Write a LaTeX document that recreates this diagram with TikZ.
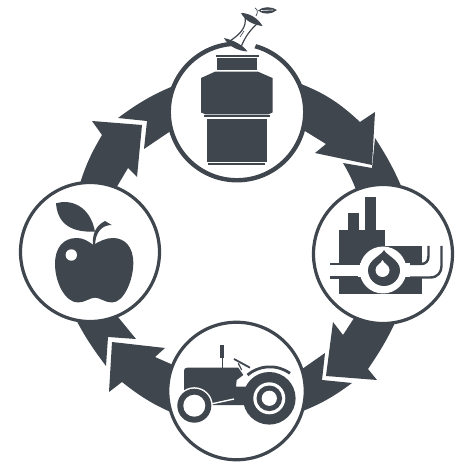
\documentclass[tikz,border=0pt]{standalone}
\definecolor{slate}{HTML}{3F464E}
\tikzset{
  stagering/.style={circle,draw=slate,fill=white,line width=3.2pt,inner sep=0pt},
  band/.style={fill=slate,draw=none},
  pipe/.style={draw=slate,line width=2.4pt},
  gap/.style={fill=white,draw=none}
}
\begin{document}
\begin{tikzpicture}[x=1pt,y=-1pt]
\useasboundingbox (0,0) rectangle (466,462);
% arrows of the ring
\fill[band] (296,82) to[bend left=11] (360,122) -- (375,112) -- (372,165) -- (315,153) -- (326,144) -- (300,128) -- cycle;
\fill[band] (343,163) -- (372,168) -- (375,138) to[bend left=5] (405,195) -- (358,195) to[bend right=5] cycle;
\fill[band] (400,312) to[bend left=5] (368,369) -- (377,380) -- (326,376) -- (333,322) -- (343,335) -- (358,312) -- cycle;
\fill[band] (325,353) -- (322,380) -- (352,383) to[bend left=8] (295,414) -- (295,374) -- cycle;
\fill[band] (180,368) -- (155,357) -- (165,348) -- (112,342) -- (109,392) -- (122,382) to[bend right=8] (180,416) -- cycle;
\fill[band] (118,317) -- (136,339) -- (108,337) -- (106,366) to[bend left=5] (72,312) -- (112,305) -- cycle;
\fill[band] (78,190) to[bend left=7] (102,135) -- (92,121) -- (142,125) -- (137,177) -- (128,168) -- (112,195) -- cycle;
\fill[band] (118,118) -- (147,121) -- (144,149) -- (178,126) -- (178,84) to[bend right=7] cycle;
% the four stages
\node[stagering,line width=4.4pt,minimum size=136.5pt] (disposal) at (237,112) {};
\node[stagering,minimum size=139pt] (plant) at (383,254) {};
\node[stagering,minimum size=137.5pt] (tractor) at (236.5,391) {};
\node[stagering,minimum size=139pt] (apple) at (90,252) {};
% disposal unit
\fill[slate] (215.5,55) rectangle (258.5,57.5);
\fill[slate] (217,58.5) rectangle (256.5,70.5);
\fill[slate] (201,78) -- (215,71.7) -- (258,71.7) -- (272.5,78) -- (272.5,112.5) -- (268,114.5) -- (206,114.5) -- (201,112.5) -- cycle;
\fill[slate] (204,115) rectangle (270,117.5);
\fill[slate] (206.5,119) -- (267,119) -- (267,162) -- (206.5,162) -- cycle;
\fill[slate] (208,163) rectangle (265,165);
% apple core on the rim
\fill[white] (219,36) -- (238,12) -- (265,22) -- (252,54) -- cycle;
\draw[slate,line width=1.2pt] (245,16) .. controls (247,28) and (240,34) .. (230,41);
\draw[slate,line width=1.2pt] (258,23) .. controls (250,30) and (245,37) .. (241,47);
\draw[slate,line width=0.6pt] (244,31) -- (240,37);
\fill[slate] (241,13) .. controls (249,13) and (258,18) .. (262.5,26) .. controls (254,25) and (245,21) .. cycle;
\fill[slate] (224,38) .. controls (233,40) and (243,45) .. (247.5,51.5) .. controls (238,51) and (228,46) .. cycle;
\draw[slate,line width=0.7pt] (255,8) .. controls (258,10) and (258,12) .. (256,16);
\fill[slate] (258,10.5) .. controls (263,6) and (272,6.5) .. (277,10) .. controls (272,14.5) and (263,15) .. cycle;
\draw[white,line width=0.6pt] (261,10.5) -- (273,10);
% plant
\fill[slate] (348.3,212.7) rectangle (359,231);
\fill[slate] (365,196.7) rectangle (376,231);
\fill[slate] (339,230) rectangle (385,263.5);
\fill[slate] (385,246) rectangle (421.7,263.5);
\fill[slate] (339,277.5) rectangle (421.7,294.5);
\fill[gap] (383,270) circle[radius=23.5];
\draw[pipe] (330,264) -- (360,264);
\draw[pipe] (330,277.5) -- (358,277.5);
\draw[pipe] (410,264) -- (421,264) .. controls (426,264) and (428.5,261) .. (428.5,256) -- (428.5,246);
\draw[pipe] (410,277.5) -- (430,277.5) .. controls (438,277.5) and (441.5,272) .. (441.5,266) -- (441.5,246);
\fill[slate] (384,250) .. controls (386,255) and (400,260) .. (400,270) arc[start angle=0,end angle=180,radius=16] .. controls (368,260) and (382,255) .. cycle;
\fill[gap] (382.5,260) .. controls (384,264) and (389.5,265) .. (389.5,270) arc[start angle=0,end angle=180,radius=7] .. controls (375.5,265) and (381,264) .. cycle;
% tractor
\fill[slate] (187,367.7) -- (238.3,367.7) -- (243.3,375) -- (236.7,380) -- (236,386.7) -- (250,386.7) -- (250,405) -- (212,405) -- (205,408) -- (190,396) -- (184,393) -- (184,371) .. controls (184,369) and (185,367.7) .. cycle;
\fill[slate] (220,345) rectangle (224,358.5);
\draw[slate,line width=1pt] (222,358) -- (222,368);
\draw[slate,line width=1.8pt] (234,359) -- (250,367.7);
\draw[slate,line width=1.2pt] (238.3,363.3) -- (241.7,370);
\draw[slate,line width=2.8pt] (247.5,375) .. controls (258,366) and (275,363) .. (290,373.3);
\draw[white,line width=1.4pt] (211,404) -- (234,399);
\fill[slate] (269.3,398.3) circle[radius=26.3];
\fill[white] (269.3,398.3) circle[radius=16];
\fill[slate] (269.3,398.3) circle[radius=12.8];
\fill[white] (269.3,398.3) circle[radius=7.6];
\fill[white] (194.3,405.7) circle[radius=18.5];
\fill[slate] (194.3,405.7) circle[radius=17];
\fill[white] (194.3,405.7) circle[radius=11];
% apple
\fill[slate] (93.3,245) .. controls (87,240) and (82,238) .. (76.7,238) .. controls (63,238) and (55,248) .. (55,264) .. controls (55,282) and (65,302.5) .. (78,302.5) .. controls (85,302.5) and (90,297.7) .. (95,297.7) .. controls (100,297.7) and (105,302.5) .. (112,302.5) .. controls (124,302.5) and (133.3,280) .. (133.3,263) .. controls (133.3,247) and (125,238) .. (113,238) .. controls (106,238) and (100,241) .. cycle;
\fill[white] (71.3,255) circle[radius=5.7];
\fill[slate] (93,246.5) .. controls (92,235) and (95,226) .. (105,221) -- (111.7,225) .. controls (102,225) and (95,232) .. (95,246.5) -- cycle;
\fill[slate] (56,203.3) .. controls (70,199) and (90,205) .. (95,231.7) .. controls (80,232) and (58,230) .. cycle;
\end{tikzpicture}
\end{document}
